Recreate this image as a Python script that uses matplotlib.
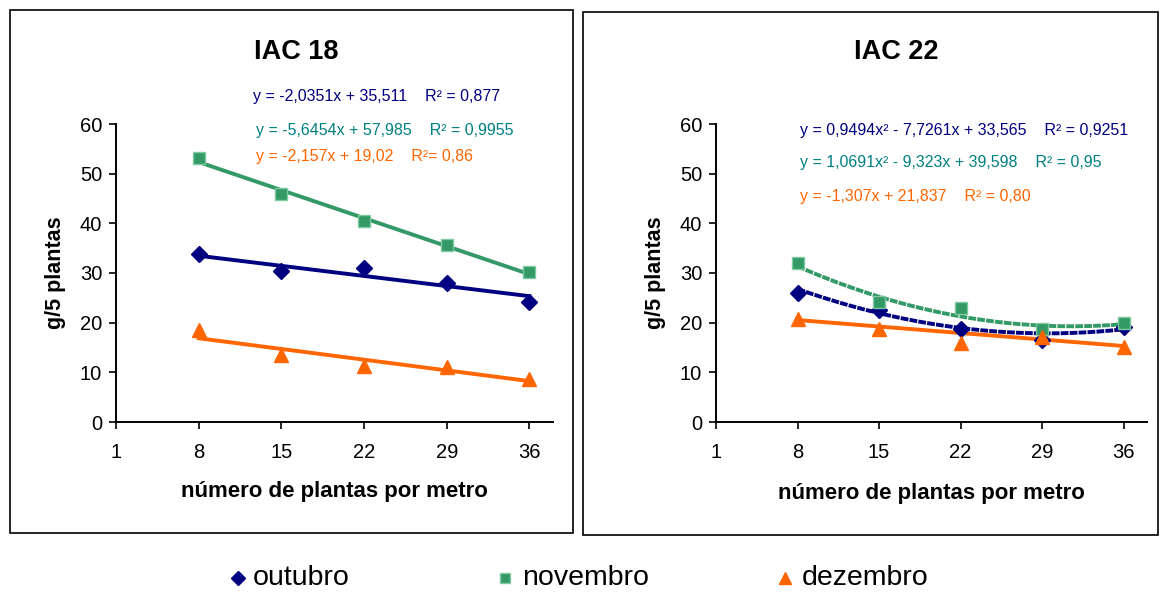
import numpy as np
import matplotlib.pyplot as plt
from matplotlib.lines import Line2D
from matplotlib.patches import Rectangle

plt.rcParams['font.family'] = ['Liberation Sans', 'DejaVu Sans']

# plantas por metro
x = [8, 15, 22, 29, 36]
x_ticks = [1, 8, 15, 22, 29, 36]
meses = ["outubro", "novembro", "dezembro"]

# IAC 18, g/5 plantas
iac18_out = [33.8, 30.4, 31.0, 28.0, 24.2]
iac18_nov = [53.2, 46.0, 40.4, 35.6, 30.3]
iac18_dez = [18.5, 13.4, 11.3, 11.0, 8.7]

# IAC 22, g/5 plantas
iac22_out = [26.0, 22.5, 18.8, 16.5, 19.2]
iac22_nov = [32.0, 24.1, 22.9, 18.8, 20.0]
iac22_dez = [20.7, 18.8, 15.9, 17.2, 15.1]

# coeficientes das linhas de tendencia (x = indice do ponto, 1..5), maior grau primeiro
iac18_fit = [[-2.0351, 35.511], [-5.6454, 57.985], [-2.157, 19.02]]
iac22_fit = [[0.9494, -7.7261, 33.565], [1.0691, -9.323, 39.598], [-1.307, 21.837]]

iac18_eq = ["y = -2,0351x + 35,511    R² = 0,877",
            "y = -5,6454x + 57,985    R² = 0,9955",
            "y = -2,157x + 19,02    R²= 0,86"]
iac22_eq = ["y = 0,9494x² - 7,7261x + 33,565    R² = 0,9251",
            "y = 1,0691x² - 9,323x + 39,598    R² = 0,95",
            "y = -1,307x + 21,837    R² = 0,80"]

cor_pt = ["#000080", "#339966", "#FF6600"]
cor_txt = ["#000080", "#008080", "#FF6600"]
marcas = ["D", "s", "^"]
tam = [8, 8, 10]

W, H = 1166, 592
fig = plt.figure(figsize=(W / 100, H / 100), dpi=100)


def fx(px):
    return px / W


def fy(py):
    return 1 - py / H


# molduras dos dois graficos
for x0, y0, x1, y1 in [(10, 10, 573, 533), (583, 12, 1158, 535)]:
    fig.add_artist(Rectangle((fx(x0), fy(y1)), fx(x1 - x0), (y1 - y0) / H,
                             fill=False, edgecolor="black", lw=1.2,
                             transform=fig.transFigure))


def painel(left, right, dados, fits, eqs, eq_pos, titulo, tit_x, xlab_y):
    ax = fig.add_axes([fx(left), fy(422), fx(right - left), (422 - 124) / H])
    xs = np.linspace(8, 36, 200)
    idx = (xs - 1) / 7
    for i, ys in enumerate(dados):
        coef = fits[i]
        yfit = np.polyval(coef, idx)
        ls = (0, (2.0, 0.3)) if len(coef) == 3 else "-"
        ax.plot(xs, yfit, color=cor_pt[i], lw=2.8, ls=ls, zorder=2)
        mec = "#7fc9a0" if marcas[i] == "s" else cor_pt[i]
        ax.plot(x, ys, ls="none", marker=marcas[i], ms=tam[i],
                color=cor_pt[i], mec=mec, mew=1, zorder=3)
    ax.set_xlim(1, 38)
    ax.set_ylim(0, 60)
    ax.set_xticks(x_ticks)
    ax.set_yticks(range(0, 61, 10))
    ax.tick_params(labelsize=14.5, length=5, width=1.2)
    ax.tick_params(axis="x", pad=10)
    ax.tick_params(axis="y", pad=5)
    for s in ["top", "right"]:
        ax.spines[s].set_visible(False)
    for s in ["left", "bottom"]:
        ax.spines[s].set_linewidth(1.4)
    ax.set_ylabel("g/5 plantas", fontsize=15.5, fontweight="bold", labelpad=10)
    fig.text(fx((left + right) / 2), fy(xlab_y), "número de plantas por metro",
             fontsize=16, fontweight="bold", ha="center", va="center")
    fig.text(fx(tit_x), fy(52), titulo, fontsize=19.5, fontweight="bold",
             ha="center", va="center")
    for i, (px, py) in enumerate(eq_pos):
        fig.text(fx(px), fy(py), eqs[i], fontsize=11.5, color=cor_txt[i],
                 va="center")
    return ax


painel(116, 553, [iac18_out, iac18_nov, iac18_dez], iac18_fit, iac18_eq,
       [(253, 97), (256, 130), (256, 157)], "IAC 18", 296, 492)
painel(716, 1147, [iac22_out, iac22_nov, iac22_dez], iac22_fit, iac22_eq,
       [(800, 130), (800, 163), (800, 197)], "IAC 22", 896, 494)

# legenda
for i, (mx, tx) in enumerate([(238, 253), (505, 522), (785, 802)]):
    mec = "#7fc9a0" if marcas[i] == "s" else cor_pt[i]
    fig.add_artist(Line2D([fx(mx)], [fy(578)], marker=marcas[i], ms=tam[i] - 1,
                          color=cor_pt[i], mec=mec, ls="none",
                          transform=fig.transFigure))
    fig.text(fx(tx), fy(578), meses[i], fontsize=20.5, va="center")

fig.savefig("out.png", dpi=100)
